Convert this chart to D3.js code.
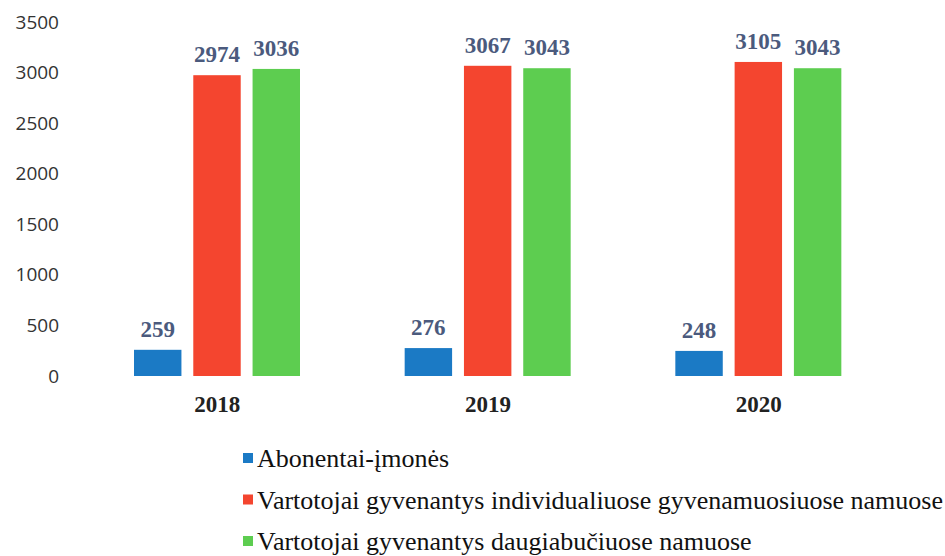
<!DOCTYPE html>
<html>
<head>
<meta charset="utf-8">
<script src="https://cdn.jsdelivr.net/npm/d3@7"></script>
<style>
  body { margin: 0; background: #fff; }
  svg { display: block; }
</style>
</head>
<body>
<svg id="chart" width="945" height="556"></svg>
<script>
'use strict';

// data
const years = ['2018', '2019', '2020'];
const seriesNames = [
  'Abonentai-įmonės',
  'Vartotojai gyvenantys individualiuose gyvenamuosiuose namuose',
  'Vartotojai gyvenantys daugiabučiuose namuose'
];
const seriesValues = [
  [259, 276, 248],
  [2974, 3067, 3105],
  [3036, 3043, 3043]
];
const yTicks = [0, 500, 1000, 1500, 2000, 2500, 3000, 3500];
const colors = ['#1b7ac5', '#f4452f', '#5dcd50'];

const svg = d3.select('#chart');
const plot = { left: 82, right: 894, top: 22, bottom: 376 };

const x0 = d3.scaleBand()
  .domain(years)
  .range([plot.left, plot.right]);

// bars inside one year
const x1 = d3.scaleBand()
  .domain(d3.range(seriesNames.length))
  .range([52, 218])
  .paddingInner(0.2);

const y = d3.scaleLinear()
  .domain([0, 3500])
  .range([plot.bottom, plot.top]);

// y axis labels only, no lines
const yAxis = d3.axisLeft(y)
  .tickValues(yTicks)
  .tickFormat(d3.format('d'))
  .tickSize(0)
  .tickPadding(0);
svg.append('g')
  .attr('transform', 'translate(59,0)')
  .call(yAxis)
  .call(g => g.select('.domain').remove())
  .selectAll('text')
  .attr('font-family', '"Open Sans", sans-serif')
  .attr('font-size', 19)
  .attr('fill', '#333');

const rows = (d, i) => seriesValues.map((s, k) => ({ k: k, v: s[i] }));

// bars
const groups = svg.selectAll('g.year')
  .data(years)
  .enter()
  .append('g')
  .attr('class', 'year')
  .attr('transform', d => 'translate(' + x0(d) + ',0)');

groups.selectAll('rect')
  .data(rows)
  .enter()
  .append('rect')
  .attr('x', d => x1(d.k))
  .attr('width', x1.bandwidth())
  .attr('y', d => y(d.v))
  .attr('height', d => y(0) - y(d.v))
  .style('fill', d => colors[d.k]);

// value labels
groups.selectAll('text.value')
  .data(rows)
  .enter()
  .append('text')
  .attr('class', 'value')
  .attr('x', d => x1(d.k) + x1.bandwidth() / 2)
  .attr('y', d => y(d.v) - 13)
  .attr('text-anchor', 'middle')
  .attr('font-family', '"Liberation Serif", serif')
  .attr('font-weight', 'bold')
  .attr('font-size', 23)
  .attr('fill', '#4b5a7d')
  .text(d => d.v);

// x axis labels
const xAxis = d3.axisBottom(x0).tickSize(0).tickPadding(0);
svg.append('g')
  .attr('transform', 'translate(0,412)')
  .call(xAxis)
  .call(g => g.select('.domain').remove())
  .selectAll('text')
  .attr('y', 0)
  .attr('dy', 0)
  .attr('font-family', '"Liberation Serif", serif')
  .attr('font-weight', 'bold')
  .attr('font-size', 23)
  .attr('fill', '#222');

// legend
const legend = svg.append('g').attr('transform', 'translate(243,458)');
const item = legend.selectAll('g')
  .data(seriesNames)
  .enter()
  .append('g')
  .attr('transform', (d, i) => 'translate(0,' + i * 41.5 + ')');

item.append('rect')
  .attr('x', 0)
  .attr('y', -5)
  .attr('width', 10)
  .attr('height', 10)
  .style('fill', (d, i) => colors[i]);

item.append('text')
  .attr('x', 14)
  .attr('y', 9)
  .attr('font-family', '"Liberation Serif", serif')
  .attr('font-size', 26)
  .attr('fill', '#111')
  .text(d => d);
</script>
</body>
</html>
